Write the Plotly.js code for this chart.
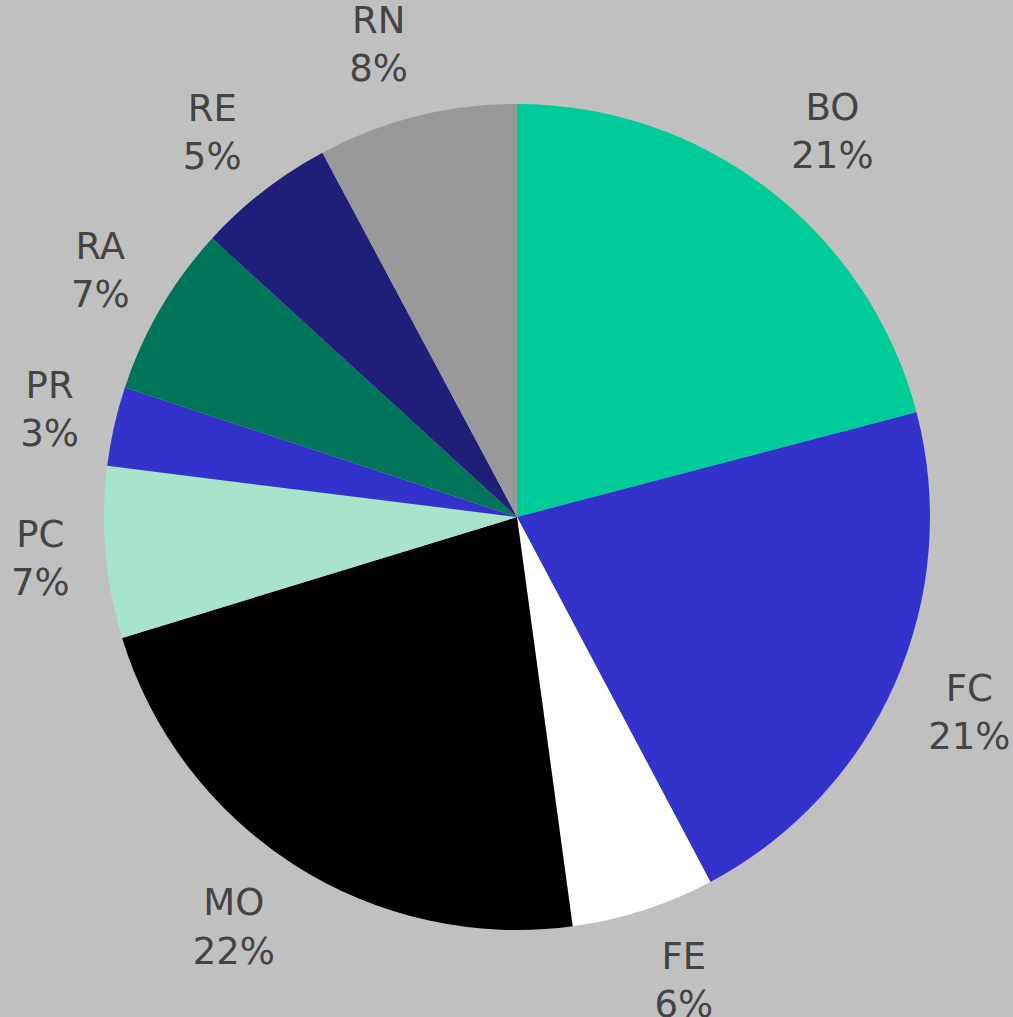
<!DOCTYPE html>
<html><head><meta charset="utf-8">
<script src="https://cdn.plot.ly/plotly-3.0.1.min.js"></script>
<style>html,body{margin:0;padding:0;background:#c0c0c0;}</style>
</head><body>
<div id="chart" style="width:1013px;height:1017px;"></div>
<script>
const labels = ["BO","FC","FE","MO","PC","PR","RA","RE","RN"];
const values = [20.9,21.3,5.6,22.4,6.7,3.1,6.7,5.4,7.8];
const colors = ["#00cc99","#3333cc","#ffffff","#000000","#a8e4cc","#3333cc","#00755a","#1f1f7a","#999999"];

const W = 1013, H = 1017;
const CX = 517, CY = 517, PIE_R = 413;     // pie centre / radius in pixels
const LX = 449, LY = 487, LSHIFT = -3;     // label anchor distances (pixels)
const FONT_SIZE = 37, FONT_FAMILY = "DejaVu Sans";

// text width measurement for label placement
const ctx = document.createElement("canvas").getContext("2d");
ctx.font = FONT_SIZE + "px '" + FONT_FAMILY + "'";

const total = values.reduce((a, b) => a + b, 0);
let acc = 0;
const lx = [], ly = [], texts = [];
values.forEach((v, i) => {
  const mid = (acc + v / 2) / total * 2 * Math.PI;
  acc += v;
  const pct = Math.round(v / total * 100) + "%";
  const half = Math.max(ctx.measureText(labels[i]).width, ctx.measureText(pct).width) / 2;
  const s = Math.sin(mid), c = Math.cos(mid);
  lx.push(LX * s + Math.sign(s) * half);
  ly.push(LY * c + LSHIFT);
  texts.push(labels[i] + "<br>" + pct);
});

Plotly.newPlot("chart",[{
  type:"pie",
  labels:labels,
  values:values,
  sort:false,
  direction:"clockwise",
  rotation:0,
  marker:{colors:colors,line:{width:0}},
  textinfo:"none",
  domain:{x:[(CX - PIE_R) / W, (CX + PIE_R) / W], y:[(H - CY - PIE_R) / H, (H - CY + PIE_R) / H]},
  showlegend:false,
  hoverinfo:"label+percent"
},{
  type:"scatter",
  mode:"text",
  x:lx,
  y:ly,
  text:texts,
  textposition:"middle center",
  textfont:{family:FONT_FAMILY, size:FONT_SIZE, color:"#444444"},
  cliponaxis:false,
  hoverinfo:"skip",
  showlegend:false
}],{
  width:W,height:H,
  paper_bgcolor:"#c0c0c0",
  plot_bgcolor:"rgba(0,0,0,0)",
  margin:{l:0,r:0,t:0,b:0,pad:0},
  showlegend:false,
  xaxis:{range:[-CX, W - CX], visible:false, fixedrange:true},
  yaxis:{range:[-(H - CY), CY], visible:false, fixedrange:true}
},{displayModeBar:false});
</script>
</body></html>
